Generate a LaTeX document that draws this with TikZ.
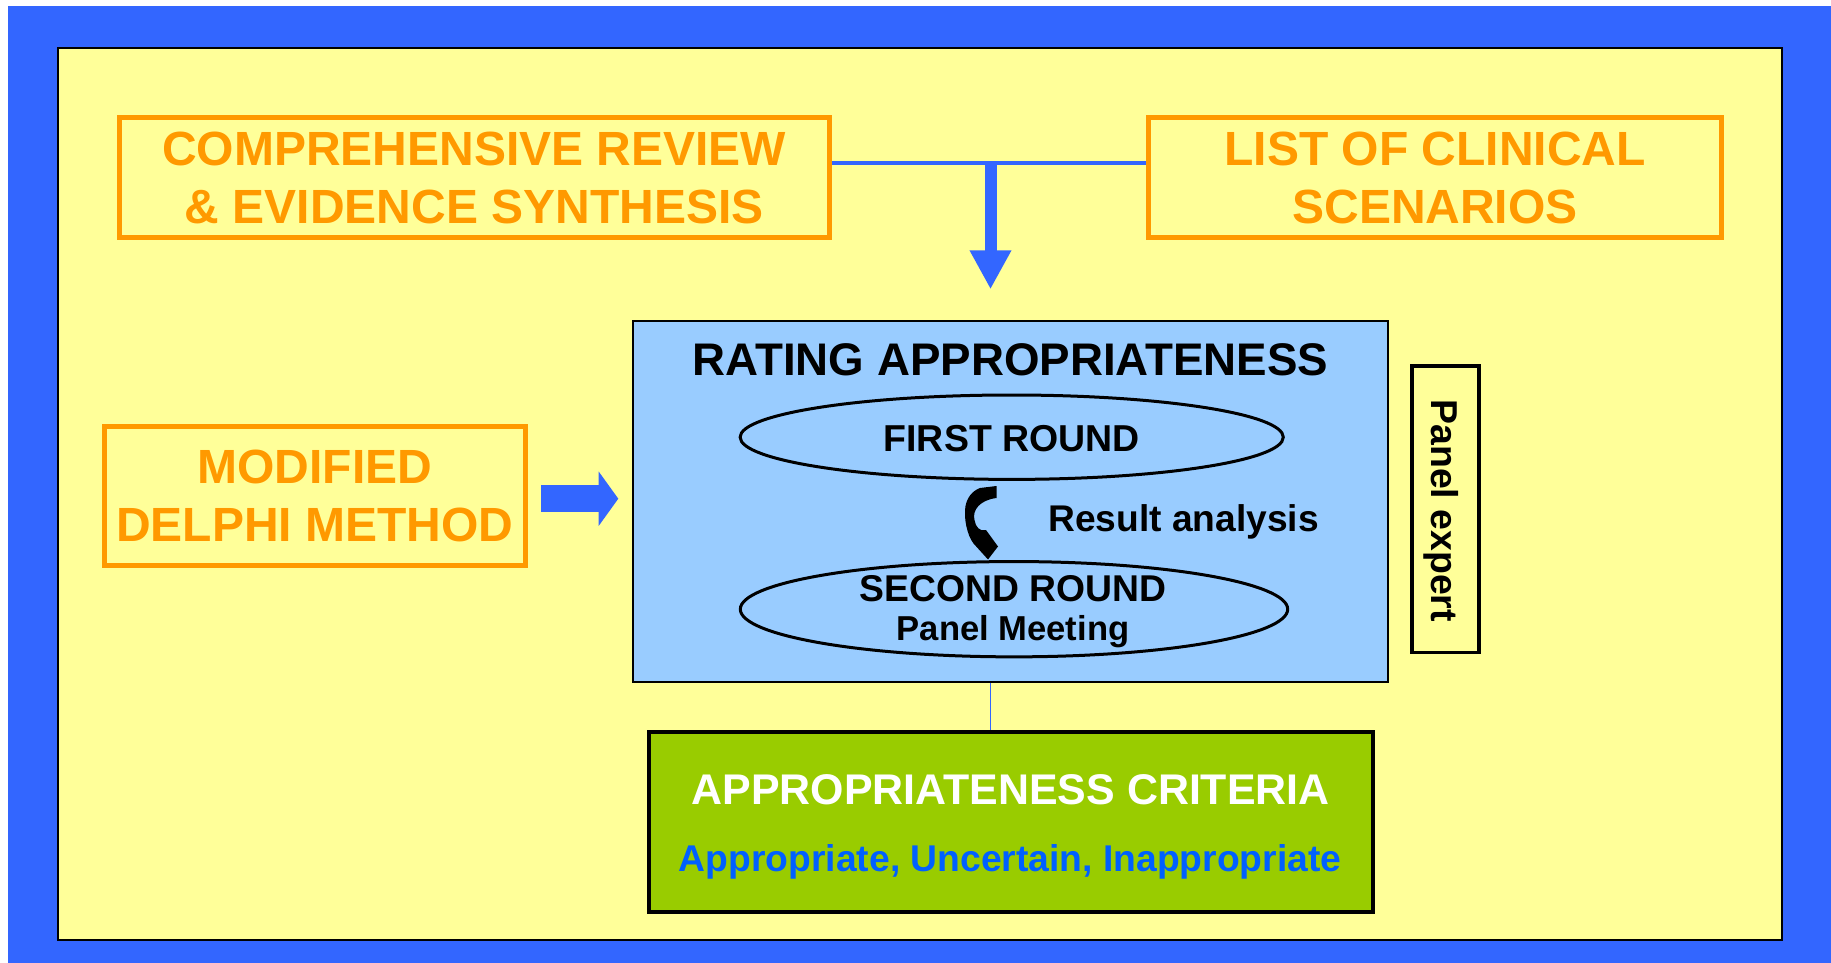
\documentclass[tikz,border=0pt]{standalone}
\usepackage{fontspec}
\setmainfont{Liberation Sans}
\usetikzlibrary{arrows.meta,shapes.geometric}
\definecolor{frameblue}{HTML}{3366FF}
\definecolor{slideyellow}{HTML}{FFFF99}
\definecolor{boxorange}{HTML}{FF9900}
\definecolor{ratingblue}{HTML}{99CCFF}
\definecolor{critgreen}{HTML}{99CC00}
\definecolor{textblue}{HTML}{0060FF}
\tikzset{
  orangebox/.style={draw=boxorange, line width=2.5pt, text=boxorange, align=center, inner sep=0pt,
    font=\bfseries\fontsize{24}{28.85}\selectfont},
  roundell/.style={ellipse, draw=black, line width=1.5pt, inner sep=0pt},
  lbl/.style={anchor=base, inner sep=0pt, font=\bfseries\fontsize{18.7}{22}\selectfont},
  plainbox/.style={draw=black, inner sep=0pt},
  bluelink/.style={draw=frameblue, color=frameblue},
}
\begin{document}
\begin{tikzpicture}[x=0.5pt,y=-0.5pt]
\useasboundingbox (0,0) rectangle (1831,963);
\fill[white] (0,0) rectangle (1831,963);
\fill[frameblue] (8,6) rectangle (1831,963);
\draw[fill=slideyellow, line width=1pt] (57.5,48.5) rectangle (1781.5,940);

% top and left boxes
\node[orangebox, minimum width=355.15pt, minimum height=60pt] (comp) at (474.2,177.8)
  {COMPREHENSIVE REVIEW\\\& EVIDENCE SYNTHESIS};
\node[orangebox, minimum width=286.1pt, minimum height=60pt] (list) at (1435,177.8)
  {LIST OF CLINICAL\\SCENARIOS};
\node[orangebox, minimum width=210.75pt, minimum height=69.5pt] (delphi) at (314.85,496.3)
  {MODIFIED\\DELPHI METHOD};

% rating box
\node[plainbox, fill=ratingblue, line width=1pt, minimum width=377.35pt, minimum height=180.35pt] (rating) at (1010.35,501.35) {};
\node[lbl, font=\bfseries\fontsize{22.85}{26}\selectfont] (title) at (1010.5,375) {RATING APPROPRIATENESS};
\node[roundell, minimum width=271.6pt, minimum height=42.2pt] (first) at (1011.7,437.2) {};
\node[lbl, font=\bfseries\fontsize{18.74}{22}\selectfont] (firstlbl) at (1011.7,451.7) {FIRST ROUND};
\node[roundell, minimum width=273.7pt, minimum height=47.65pt] (second) at (1014,609.2) {};
\node[lbl, font=\bfseries\fontsize{18.65}{22}\selectfont] (secondlbl) at (1013,601.7) {SECOND ROUND};
\node[lbl, font=\bfseries\fontsize{17.3}{20}\selectfont] (meeting) at (1013,640) {Panel Meeting};
\node[lbl, font=\bfseries\fontsize{18.58}{22}\selectfont] (result) at (1183.7,531.7) {Result analysis};

% curved arrow between rounds
\fill[black] (980,488) -- (996.5,486) -- (996.5,498)
  .. controls (980,500) and (972,510) .. (974.5,520)
  .. controls (975.5,527) and (980,532) .. (986,530)
  -- (998,546.5) -- (988,559.5) -- (973.5,543.5)
  .. controls (967,535) and (963.5,518) .. (965.5,506)
  .. controls (967,498) and (972,491) .. (980,488) -- cycle;

% panel expert
\node[plainbox, line width=1.75pt, minimum width=33.5pt, minimum height=143.1pt] (panel) at (1445.25,509.15) {};
\node[lbl, rotate=-90, font=\bfseries\fontsize{18.7}{22}\selectfont] (paneltxt) at (1431.7,510.8) {Panel expert};

% criteria box
\node[plainbox, fill=critgreen, line width=2pt, minimum width=362pt, minimum height=90pt] (crit) at (1011,822) {};
\node[lbl, text=white, font=\bfseries\fontsize{21.45}{25}\selectfont] (crittitle) at (1010.7,804) {APPROPRIATENESS CRITERIA};
\node[lbl, text=textblue, font=\bfseries\fontsize{18.63}{22}\selectfont] (critsub) at (1010.2,871.7) {Appropriate, Uncertain, Inappropriate};

% connectors
\coordinate (J) at (990.5,163);
\coordinate (Jtip) at (990.5,289.3);
\draw[bluelink, line width=2.25pt] (comp.east |- J) -- (list.west |- J);
\draw[bluelink, line width=6pt, -{Triangle[width=19.5pt,length=19.5pt]}] (J) -- (Jtip);
\coordinate (dA) at (541.3,498.7);
\coordinate (dB) at (618.3,498.7);
\draw[bluelink, line width=13.5pt, -{Triangle[width=26.7pt,length=9.8pt]}] (dA) -- (dB);
\draw[bluelink, line width=0.75pt] (J |- rating.south) -- (J |- crit.north);
\end{tikzpicture}
\end{document}
